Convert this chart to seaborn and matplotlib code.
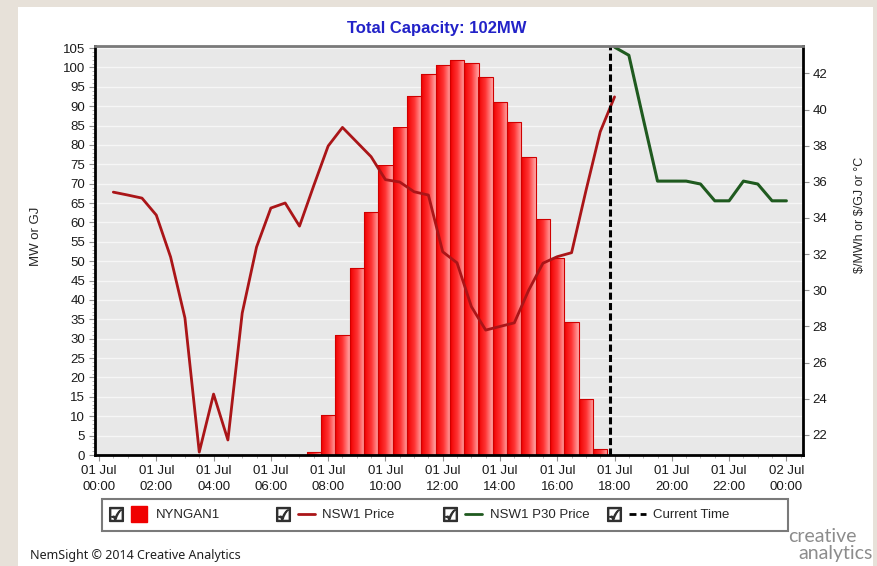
import numpy as np
import matplotlib
matplotlib.use("Agg")
import matplotlib.pyplot as plt
import seaborn as sns
from matplotlib.lines import Line2D
from matplotlib.patches import Rectangle
from matplotlib.colors import LinearSegmentedColormap
from matplotlib.legend_handler import HandlerTuple
from matplotlib.ticker import MultipleLocator

# NYNGAN1 output, half-hourly (hours after midnight 01 Jul, MW)
bar_hours = [7.5, 8.0, 8.5, 9.0, 9.5, 10.0, 10.5, 11.0, 11.5, 12.0, 12.5,
             13.0, 13.5, 14.0, 14.5, 15.0, 15.5, 16.0, 16.5, 17.0, 17.5]
bar_mw = [0.7, 10.3, 31.0, 48.2, 62.7, 74.9, 84.6, 92.5, 98.3, 100.7, 102.0,
          101.2, 97.6, 91.2, 85.9, 76.9, 60.9, 50.8, 34.4, 14.4, 1.5]

# NSW1 dispatch price ($/MWh)
price_hours = [0.5, 1.0, 1.5, 2.0, 2.5, 3.0, 3.5, 4.0, 4.5, 5.0, 5.5, 6.0,
               6.5, 7.0, 7.5, 8.0, 8.5, 9.0, 9.5, 10.0, 10.5, 11.0, 11.5, 12.0,
               12.5, 13.0, 13.5, 14.0, 14.5, 15.0, 15.5, 16.0, 16.5, 17.0, 17.5, 18.0]
price_vals = [35.43, 35.27, 35.1, 34.16, 31.84, 28.47, 21.05, 24.26, 21.72, 28.74, 32.39, 34.55,
              34.83, 33.55, 35.8, 37.98, 39.01, 38.2, 37.39, 36.12, 35.99, 35.45, 35.27, 32.13,
              31.52, 29.1, 27.8, 28.0, 28.2, 30.0, 31.5, 31.86, 32.08, 35.5, 38.77, 40.7]

# NSW1 P30 pre-dispatch price ($/MWh)
p30_hours = [18.0, 18.5, 19.0, 19.5, 20.0, 20.5, 21.0, 21.5, 22.0, 22.5, 23.0, 23.5, 24.0]
p30_vals = [43.45, 43.0, 39.5, 36.04, 36.04, 36.04, 35.88, 34.95, 34.95, 36.04, 35.88, 34.95, 34.95]

current_time = 17.85

tick_hours = [0, 2, 4, 6, 8, 10, 12, 14, 16, 18, 20, 22, 24]
tick_labels = ["01 Jul\n00:00", "01 Jul\n02:00", "01 Jul\n04:00", "01 Jul\n06:00",
               "01 Jul\n08:00", "01 Jul\n10:00", "01 Jul\n12:00", "01 Jul\n14:00",
               "01 Jul\n16:00", "01 Jul\n18:00", "01 Jul\n20:00", "01 Jul\n22:00",
               "02 Jul\n00:00"]

legend_labels = ["NYNGAN1", "NSW1 Price", "NSW1 P30 Price", "Current Time"]

RED_LINE = "#aa1518"
GREEN_LINE = "#1f5a1f"

sns.set_style("white")
plt.rcParams['font.family'] = ['Liberation Sans', 'DejaVu Sans']

W, H = 878, 566
fig = plt.figure(figsize=(W / 100, H / 100), dpi=100, facecolor="#e7e1d9")
fig.add_artist(Rectangle((18 / W, 0), 855 / W, 559 / H, transform=fig.transFigure,
                         facecolor="white", edgecolor="none", zorder=-10))

ax = fig.add_axes([95 / W, 1 - 455 / H, 708 / W, 409.3 / H])
ax.set_facecolor("#e8e8e8")

sns.barplot(x=bar_hours, y=bar_mw, native_scale=True, width=1.0, errorbar=None,
            orient="x", color="#ff2020", edgecolor="#d00000", linewidth=0.8, ax=ax)

# gradient fill inside every bar: strong red on the left, pink on the right
cmap = LinearSegmentedColormap.from_list("bar", ["#f00000", "#ff3434", "#ffa8a8"])
grad = np.linspace(0, 1, 64).reshape(1, -1)
for p in list(ax.patches):
    x0, y0, w, h = p.get_x(), p.get_y(), p.get_width(), p.get_height()
    p.set_facecolor("none")
    p.set_zorder(2)
    im = ax.imshow(grad, extent=[x0, x0 + w, y0, y0 + h], aspect="auto", cmap=cmap,
                   interpolation="bilinear", zorder=1.5)
    im.set_clip_path(p)

ax.set_xlim(-0.14, 24.58)
ax.set_ylim(0, 105.6)
ax.set_yticks(range(0, 106, 5))
ax.yaxis.set_minor_locator(MultipleLocator(1))
ax.set_xticks(tick_hours, tick_labels)
ax.xaxis.set_minor_locator(MultipleLocator(0.5))
ax.set_axisbelow(True)
ax.yaxis.grid(True, color="#f6f6f6", linewidth=1)
ax.xaxis.grid(False)
ax.set_xlabel("")
ax.set_ylabel("MW or GJ", fontsize=9.5)
ax.yaxis.set_label_coords(-0.075, 0.535)
ax.tick_params(axis="both", which="major", length=4, color="#909090",
               labelsize=9.5, labelcolor="#1a1a1a", pad=3, left=True, bottom=True)
ax.tick_params(axis="both", which="minor", length=2, color="#a8a8a8", left=True, bottom=True)
for lab in ax.get_xticklabels():
    lab.set_linespacing(1.45)
for s in ax.spines.values():
    s.set_visible(False)

ax2 = ax.twinx()
sns.lineplot(x=price_hours, y=price_vals, ax=ax2, color=RED_LINE, linewidth=2)
sns.lineplot(x=p30_hours, y=p30_vals, ax=ax2, color=GREEN_LINE, linewidth=2.2)
ax2.axvline(current_time, color="black", linewidth=2.2, dashes=(2.3, 1.1))
ax2.set_ylim(20.89, 43.53)
ax2.set_yticks(range(22, 43, 2))
ax2.set_xlim(-0.14, 24.58)
ax2.grid(False)
ax2.set_ylabel(r"\$/MWh or \$/GJ or °C", fontsize=9)
ax2.yaxis.set_label_coords(1.072, 0.586)
ax2.tick_params(axis="y", which="major", length=4, color="#909090", right=True,
                labelsize=9.5, labelcolor="#1a1a1a", pad=3)
for name, s in ax2.spines.items():
    s.set_visible(True)
    s.set_color("#7a7a7a" if name == "top" else "black")
    s.set_linewidth(2)

fig.text(437 / W, 1 - 28 / H, "Total Capacity: 102MW", ha="center", va="center",
         fontsize=12, fontweight="bold", color="#2222c8")

# legend: check box + symbol + text, in one framed strip
fig.add_artist(Rectangle((102 / W, 1 - 531 / H), 686 / W, 32 / H, transform=fig.transFigure,
                         fill=False, edgecolor="#7a7a7a", linewidth=1.5))
series_handles = [
    Line2D([], [], marker="s", markersize=11, color="#f00000", linestyle="none"),
    Line2D([], [], color=RED_LINE, linewidth=2),
    Line2D([], [], color=GREEN_LINE, linewidth=2),
    Line2D([], [], color="black", linewidth=2, dashes=(2.5, 1.5)),
]
starts = [108, 275, 442, 606]
for hnd, lab, sx in zip(series_handles, legend_labels, starts):
    box = Line2D([], [], marker="$\u2611$", markersize=10, color="#303030", linestyle="none")
    fig.legend([(box, hnd)], [lab], handler_map={tuple: HandlerTuple(ndivide=None, pad=0.5)},
               loc="center left", bbox_to_anchor=(sx / W, 1 - 515 / H), frameon=False,
               handlelength=3.0, handletextpad=0.6, borderpad=0, borderaxespad=0, fontsize=9.5)

fig.text(30 / W, 1 - 555 / H, "NemSight © 2014 Creative Analytics", ha="left", va="center",
         fontsize=9, family=["Noto Sans", "DejaVu Sans"], color="#202020")
fig.text(857 / W, 1 - 537 / H, "creative", ha="right", va="center", fontsize=14,
         color="#8c8c8c", family=["Lato", "DejaVu Sans"])
fig.text(873 / W, 1 - 554 / H, "analytics", ha="right", va="center", fontsize=14,
         color="#8c8c8c", family=["Lato", "DejaVu Sans"])

fig.savefig("out.png", dpi=100, facecolor=fig.get_facecolor())
